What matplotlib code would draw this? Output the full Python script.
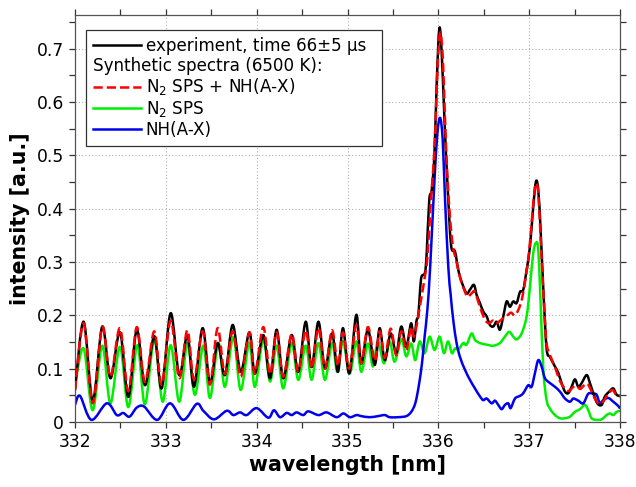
import matplotlib
matplotlib.use("Agg")
import matplotlib.pyplot as plt
from matplotlib.lines import Line2D
from matplotlib.path import Path
from matplotlib.patches import PathPatch
from matplotlib.ticker import MultipleLocator, FuncFormatter
from matplotlib.transforms import Affine2D

# ---------------- data ----------------
exp_x = [332.00, 332.095, 332.195, 332.30, 332.39, 332.495, 332.587, 332.68, 332.77, 332.873,
         332.954, 333.053, 333.148, 333.237, 333.31, 333.405, 333.486, 333.57, 333.65, 333.736,
         333.824, 333.92, 333.98, 334.073, 334.147, 334.22, 334.293, 334.385, 334.458, 334.54,
         334.605, 334.68, 334.752, 334.83, 334.895, 334.95, 335.02, 335.097, 335.15, 335.225,
         335.30, 335.354, 335.41, 335.475, 335.537, 335.592, 335.647, 335.70, 335.73, 335.76,
         335.78, 335.80, 335.816, 335.853, 335.872, 335.90, 335.927, 335.956, 335.982, 336.011,
         336.037, 336.066, 336.10, 336.14, 336.183, 336.22, 336.256, 336.311, 336.348, 336.392,
         336.422, 336.458, 336.495, 336.532, 336.568, 336.605, 336.642, 336.678, 336.715, 336.752,
         336.788, 336.825, 336.862, 336.899, 336.935, 336.972, 337.009, 337.045, 337.075, 337.10,
         337.126, 337.156, 337.192, 337.229, 337.284, 337.321, 337.357, 337.394, 337.431, 337.467,
         337.504, 337.541, 337.578, 337.633, 337.669, 337.706, 337.75, 337.798, 337.834, 337.882,
         337.926, 337.963, 338.0]
exp_y = [0.060, 0.188, 0.040, 0.179, 0.082, 0.168, 0.047, 0.173, 0.069, 0.161,
         0.063, 0.204, 0.088, 0.163, 0.066, 0.176, 0.073, 0.148, 0.088, 0.182,
         0.094, 0.168, 0.091, 0.163, 0.082, 0.173, 0.082, 0.163, 0.094, 0.188,
         0.103, 0.188, 0.101, 0.166, 0.094, 0.176, 0.091, 0.201, 0.110, 0.173,
         0.107, 0.176, 0.116, 0.166, 0.129, 0.179, 0.141, 0.185, 0.151, 0.190,
         0.200, 0.250, 0.273, 0.280, 0.317, 0.416, 0.435, 0.498, 0.635, 0.738,
         0.692, 0.573, 0.448, 0.332, 0.320, 0.285, 0.263, 0.241, 0.248, 0.257,
         0.238, 0.223, 0.207, 0.198, 0.182, 0.179, 0.188, 0.173, 0.198, 0.226,
         0.216, 0.226, 0.223, 0.244, 0.248, 0.285, 0.329, 0.404, 0.451, 0.435,
         0.360, 0.248, 0.138, 0.122, 0.104, 0.092, 0.073, 0.057, 0.054, 0.066,
         0.080, 0.066, 0.073, 0.088, 0.073, 0.054, 0.035, 0.032, 0.048, 0.057,
         0.063, 0.051, 0.049]

sum_x = [332.00, 332.095, 332.195, 332.30, 332.39, 332.495, 332.587, 332.68, 332.77, 332.873,
         332.954, 333.053, 333.148, 333.237, 333.31, 333.405, 333.486, 333.57, 333.65, 333.736,
         333.824, 333.92, 333.98, 334.073, 334.147, 334.22, 334.293, 334.385, 334.458, 334.54,
         334.605, 334.68, 334.752, 334.83, 334.895, 334.95, 335.02, 335.097, 335.15, 335.225,
         335.30, 335.354, 335.41, 335.475, 335.537, 335.592, 335.647, 335.70, 335.73, 335.76,
         335.80, 335.84, 335.88, 335.92, 335.96, 335.99, 336.02, 336.05, 336.075, 336.10,
         336.13, 336.16, 336.20, 336.24, 336.28, 336.32, 336.36, 336.40, 336.44, 336.48,
         336.52, 336.56, 336.60, 336.64, 336.68, 336.72, 336.76, 336.80, 336.84, 336.88,
         336.92, 336.96, 337.00, 337.04, 337.07, 337.10, 337.13, 337.16, 337.19, 337.23,
         337.28, 337.32, 337.36, 337.40, 337.44, 337.48, 337.52, 337.56, 337.60, 337.64,
         337.68, 337.72, 337.76, 337.80, 337.84, 337.88, 337.92, 337.96, 338.0]
sum_y = [0.060, 0.185, 0.035, 0.178, 0.085, 0.176, 0.058, 0.178, 0.075, 0.170,
         0.070, 0.190, 0.082, 0.172, 0.080, 0.170, 0.070, 0.176, 0.090, 0.170,
         0.085, 0.168, 0.090, 0.178, 0.090, 0.168, 0.085, 0.165, 0.095, 0.172,
         0.100, 0.176, 0.100, 0.172, 0.105, 0.168, 0.100, 0.182, 0.110, 0.178,
         0.115, 0.170, 0.120, 0.175, 0.125, 0.170, 0.135, 0.178, 0.160, 0.180,
         0.220, 0.260, 0.310, 0.420, 0.520, 0.660, 0.730, 0.680, 0.560, 0.460,
         0.380, 0.330, 0.300, 0.270, 0.250, 0.235, 0.240, 0.245, 0.225, 0.205,
         0.190, 0.185, 0.190, 0.185, 0.190, 0.195, 0.200, 0.205, 0.200, 0.210,
         0.230, 0.270, 0.320, 0.400, 0.445, 0.430, 0.330, 0.230, 0.150, 0.125,
         0.105, 0.085, 0.070, 0.062, 0.058, 0.065, 0.068, 0.062, 0.068, 0.072,
         0.060, 0.045, 0.035, 0.035, 0.045, 0.055, 0.060, 0.050, 0.048]

n2_x = [332.00, 332.095, 332.195, 332.30, 332.39, 332.495, 332.587, 332.686, 332.77, 332.873,
        332.965, 333.053, 333.148, 333.237, 333.32, 333.413, 333.486, 333.578, 333.65, 333.743,
        333.824, 333.92, 333.98, 334.073, 334.147, 334.22, 334.293, 334.385, 334.458, 334.54,
        334.605, 334.68, 334.752, 334.83, 334.888, 334.95, 335.024, 335.097, 335.152, 335.225,
        335.28, 335.335, 335.402, 335.464, 335.519, 335.592, 335.647, 335.702, 335.746, 335.794,
        335.849, 335.904, 335.959, 336.014, 336.062, 336.106, 336.15, 336.183, 336.22, 336.275,
        336.311, 336.366, 336.403, 336.458, 336.532, 336.605, 336.678, 336.733, 336.781, 336.825,
        336.862, 336.917, 336.972, 337.009, 337.045, 337.075, 337.10, 337.126, 337.156, 337.192,
        337.229, 337.284, 337.339, 337.394, 337.449, 337.504, 337.559, 337.614, 337.651, 337.687,
        337.743, 337.798, 337.853, 337.89, 337.926, 337.963, 338.0]
n2_y = [0.070, 0.138, 0.022, 0.143, 0.035, 0.141, 0.028, 0.144, 0.033, 0.154,
        0.038, 0.144, 0.038, 0.148, 0.051, 0.143, 0.045, 0.148, 0.066, 0.159,
        0.060, 0.149, 0.066, 0.154, 0.076, 0.143, 0.063, 0.148, 0.079, 0.143,
        0.079, 0.148, 0.079, 0.148, 0.094, 0.151, 0.091, 0.151, 0.094, 0.147,
        0.104, 0.151, 0.110, 0.151, 0.113, 0.155, 0.123, 0.147, 0.116, 0.151,
        0.129, 0.160, 0.135, 0.160, 0.129, 0.151, 0.129, 0.138, 0.136, 0.148,
        0.145, 0.166, 0.154, 0.148, 0.145, 0.143, 0.148, 0.160, 0.169, 0.160,
        0.155, 0.166, 0.198, 0.254, 0.317, 0.336, 0.323, 0.223, 0.098, 0.041,
        0.025, 0.013, 0.007, 0.007, 0.010, 0.019, 0.024, 0.032, 0.022, 0.007,
        0.004, 0.005, 0.013, 0.016, 0.013, 0.019, 0.021]

nh_x = [332.00, 332.055, 332.18, 332.35, 332.46, 332.53, 332.60, 332.68, 332.76, 332.906,
        333.046, 333.193, 333.34, 333.413, 333.53, 333.67, 333.743, 333.817, 333.89, 334.0,
        334.128, 334.19, 334.257, 334.33, 334.385, 334.44, 334.513, 334.568, 334.68, 334.77,
        334.88, 334.954, 335.027, 335.10, 335.152, 335.244, 335.335, 335.41, 335.464, 335.555,
        335.647, 335.702, 335.746, 335.783, 335.82, 335.849, 335.879, 335.91, 335.956, 335.99,
        336.02, 336.048, 336.074, 336.11, 336.135, 336.165, 336.201, 336.238, 336.293, 336.348,
        336.403, 336.458, 336.495, 336.532, 336.587, 336.623, 336.66, 336.697, 336.733, 336.77,
        336.796, 336.844, 336.899, 336.935, 336.99, 337.027, 337.064, 337.10, 337.137, 337.174,
        337.229, 337.284, 337.339, 337.394, 337.449, 337.486, 337.541, 337.596, 337.651, 337.706,
        337.743, 337.779, 337.816, 337.871, 337.926, 337.981, 338.0]
nh_y = [0.032, 0.049, 0.004, 0.035, 0.013, 0.017, 0.010, 0.027, 0.029, 0.004,
        0.035, 0.004, 0.034, 0.021, 0.005, 0.021, 0.013, 0.018, 0.013, 0.026,
        0.008, 0.022, 0.009, 0.017, 0.013, 0.018, 0.013, 0.020, 0.013, 0.018,
        0.009, 0.016, 0.009, 0.013, 0.011, 0.009, 0.011, 0.013, 0.009, 0.009,
        0.011, 0.019, 0.035, 0.066, 0.110, 0.160, 0.210, 0.290, 0.448, 0.542,
        0.570, 0.529, 0.416, 0.290, 0.240, 0.190, 0.148, 0.122, 0.098, 0.079,
        0.063, 0.048, 0.041, 0.044, 0.035, 0.040, 0.032, 0.024, 0.032, 0.035,
        0.026, 0.044, 0.049, 0.054, 0.069, 0.066, 0.092, 0.116, 0.104, 0.082,
        0.073, 0.066, 0.057, 0.044, 0.038, 0.044, 0.040, 0.035, 0.053, 0.053,
        0.051, 0.035, 0.041, 0.045, 0.038, 0.030, 0.025]

labels = ["experiment, time 66\u00b15 \u00b5s",
          "Synthetic spectra (6500 K):",
          "N$_2$ SPS + NH(A-X)",
          "N$_2$ SPS",
          "NH(A-X)"]
x_label = "wavelength [nm]"
y_label = "intensity [a.u.]"


def smooth_path(xs, ys):
    """Smooth curve through the data points (Catmull-Rom as cubic Bezier)."""
    n = len(xs)
    verts = [(xs[0], ys[0])]
    codes = [Path.MOVETO]
    for i in range(n - 1):
        i0 = max(i - 1, 0)
        i3 = min(i + 2, n - 1)
        c1 = (xs[i] + (xs[i + 1] - xs[i0]) / 6.0, ys[i] + (ys[i + 1] - ys[i0]) / 6.0)
        c2 = (xs[i + 1] - (xs[i3] - xs[i]) / 6.0, ys[i + 1] - (ys[i3] - ys[i]) / 6.0)
        verts += [c1, c2, (xs[i + 1], ys[i + 1])]
        codes += [Path.CURVE4] * 3
    return Path(verts, codes)


# ---------------- figure ----------------
plt.rcParams['font.family'] = ['DejaVu Sans']
fig = plt.figure(figsize=(6.36, 4.87), dpi=100)
ax = fig.add_axes([75/636, 1-422/487, (620-75)/636, (422-15)/487])

lw = 1.8
dash = (0, (3.7, 1.6))
series = [
    (exp_x, exp_y, dict(color='black', lw=lw, ls='-'), 3),
    (n2_x, n2_y, dict(color='#00ee00', lw=lw, ls='-'), 2),
    (nh_x, nh_y, dict(color='#0000ee', lw=lw, ls='-'), 2),
    (sum_x, sum_y, dict(color='#ff0000', lw=lw, ls=dash), 4),
]
for xs, ys, st, z in series:
    p = PathPatch(smooth_path(xs, ys), transform=ax.transData, fill=False,
                  edgecolor=st['color'], linewidth=st['lw'], linestyle=st['ls'],
                  joinstyle='round', capstyle='butt', zorder=z)
    ax.add_patch(p)

h_exp = Line2D([], [], color='black', lw=lw)
h_sum = Line2D([], [], color='#ff0000', lw=lw, ls=dash)
h_n2 = Line2D([], [], color='#00ee00', lw=lw)
h_nh = Line2D([], [], color='#0000ee', lw=lw)
placeholder = Line2D([], [], color='none')

ax.set_xlim(332, 338)
ax.set_ylim(0, 0.763)
ax.xaxis.set_major_locator(MultipleLocator(1))
ax.xaxis.set_minor_locator(MultipleLocator(0.5))
ax.yaxis.set_major_locator(MultipleLocator(0.1))
ax.yaxis.set_minor_locator(MultipleLocator(0.05))
ax.yaxis.set_major_formatter(FuncFormatter(lambda v, p: '0' if abs(v) < 1e-9 else f'{v:.1f}'))

ax.tick_params(which='both', direction='out', top=True, right=True,
               labeltop=False, labelright=False, labelsize=12.3, color='#333333')
ax.tick_params(which='major', length=4.5, width=0.9)
ax.tick_params(which='minor', length=4.5, width=0.9)
for s in ax.spines.values():
    s.set_color('#555555')
    s.set_linewidth(0.9)

ax.grid(True, which='major', ls=(0, (1, 2)), color='#b0b0b0', lw=0.8)
ax.set_axisbelow(True)

ax.set_xlabel(x_label, fontsize=14.8, fontweight='bold', labelpad=3)
ax.set_ylabel(y_label, fontsize=14.8, fontweight='bold', labelpad=5)

fs = 12.1
hl, htp = 2.85, 0.3
leg = ax.legend([h_exp, placeholder, h_sum, h_n2, h_nh], labels,
                loc='upper left', bbox_to_anchor=(0.02, 0.963), borderaxespad=0,
                fontsize=fs, handlelength=hl, handletextpad=htp, labelspacing=0.11,
                borderpad=0.4, fancybox=False, framealpha=1, edgecolor='#333333')
leg.get_frame().set_linewidth(0.9)
# shift the header text to the handle column
shift = (hl + htp) * fs * fig.dpi / 72.0
t = leg.get_texts()[1]
t.set_transform(t.get_transform() + Affine2D().translate(-shift, 0))

fig.savefig("out.png", dpi=100)
